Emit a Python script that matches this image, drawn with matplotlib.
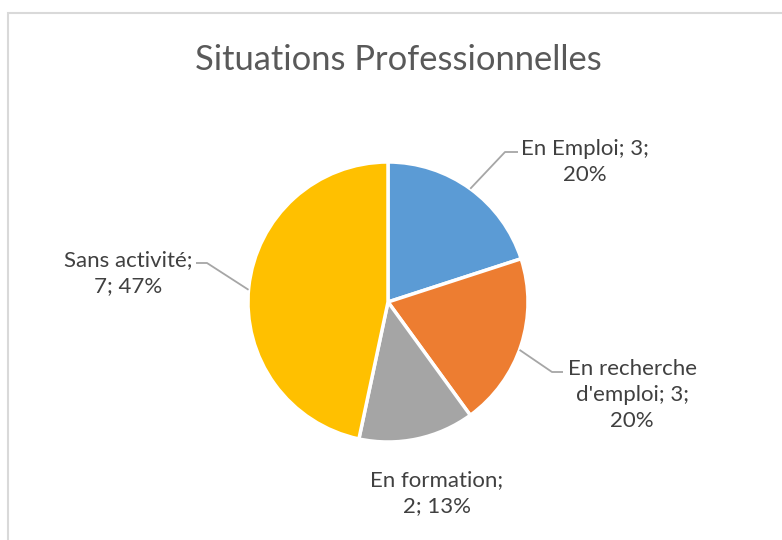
import matplotlib
matplotlib.use("Agg")
import matplotlib.pyplot as plt
from matplotlib.patches import Rectangle
import numpy as np

categories = ["En Emploi", "En recherche d'emploi", "En formation", "Sans activité"]
values = [3, 3, 2, 7]
colors = ["#5B9BD5", "#ED7D31", "#A5A5A5", "#FFC000"]
title = "Situations Professionnelles"

W, H = 782, 540
fig = plt.figure(figsize=(W / 100, H / 100), dpi=100)
ax = fig.add_axes([0, 0, 1, 1])
ax.set_xlim(0, W)
ax.set_ylim(0, H)
ax.set_aspect("equal")
ax.axis("off")

# chart frame
ax.add_patch(Rectangle((8, -20), W + 40, H - 13 + 20, fill=False,
                       edgecolor="#D9D9D9", linewidth=1.5))

cx, cy, R = 388, H - 302, 140
wedges, _ = ax.pie(values, colors=colors, startangle=90, counterclock=False,
                   center=(cx, cy), radius=R,
                   wedgeprops=dict(edgecolor="white", linewidth=2.5))
ax.set_xlim(0, W)
ax.set_ylim(0, H)
ax.axis("off")

font = "Lato"
txt_color = "#404040"
ax.text(398, H - 60, title, ha="center", va="center", fontsize=24.8,
        color="#595959", family=font)

total = sum(values)
label_texts = [f"{categories[0]}; {values[0]};\n{round(100 * values[0] / total)}%",
               f"En recherche\nd'emploi; {values[1]};\n{round(100 * values[1] / total)}%",
               f"{categories[2]};\n{values[2]}; {round(100 * values[2] / total)}%",
               f"{categories[3]};\n{values[3]}; {round(100 * values[3] / total)}%"]
# label layout (pixel coords from top), leader anchor angle on pie edge, elbow point, line end
layout = [
    dict(pos=(585, 162), ang=54, elbow=(505, 152), end=(518, 152)),
    dict(pos=(632, 395), ang=-20, elbow=(552, 372), end=(563, 372)),
    dict(pos=(437, 493), ang=None),
    dict(pos=(128, 273), ang=175, elbow=(207, 263), end=(196, 263)),
]
for txt, lay in zip(label_texts, layout):
    x, y = lay["pos"]
    ax.text(x, H - y, txt, ha="center", va="center", fontsize=16,
            color=txt_color, family=font, linespacing=1.38)
    if lay["ang"] is not None:
        a = np.deg2rad(lay["ang"])
        px, py = cx + R * np.cos(a), cy + R * np.sin(a)
        ex, ey = lay["elbow"]
        qx, qy = lay["end"]
        ax.plot([px, ex, qx], [py, H - ey, H - qy], color="#A6A6A6", lw=1.3,
                solid_capstyle="butt")

fig.savefig("out.png", dpi=100, facecolor="white")
